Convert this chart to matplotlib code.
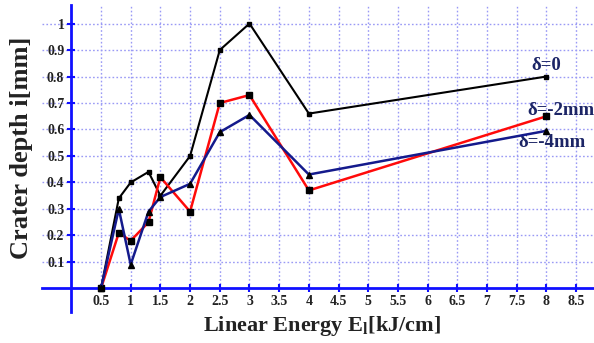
import matplotlib
matplotlib.use("Agg")
from matplotlib import pyplot as plt

energy = [0.5, 0.8, 1.0, 1.3, 1.5, 2.0, 2.5, 3.0, 4.0, 8.0]
depth_d0 = [0.0, 0.34, 0.40, 0.44, 0.35, 0.50, 0.90, 1.00, 0.66, 0.80]
depth_d2 = [0.0, 0.21, 0.18, 0.25, 0.42, 0.29, 0.70, 0.73, 0.37, 0.65]
depth_d4 = [0.0, 0.30, 0.09, 0.29, 0.345, 0.395, 0.59, 0.655, 0.43, 0.595]

x_ticks = [0.5, 1, 1.5, 2, 2.5, 3, 3.5, 4, 4.5, 5, 5.5, 6, 6.5, 7, 7.5, 8, 8.5]
x_tick_labels = ["0.5", "1", "1.5", "2", "2.5", "3", "3.5", "4", "4.5", "5",
                 "5.5", "6", "6.5", "7", "7.5", "8", "8.5"]
y_ticks = [0.1, 0.2, 0.3, 0.4, 0.5, 0.6, 0.7, 0.8, 0.9, 1.0]
y_tick_labels = ["0.1", "0.2", "0.3", "0.4", "0.5", "0.6", "0.7", "0.8", "0.9", "1"]

plt.rcParams['font.family'] = ['Liberation Serif', 'DejaVu Serif']
plt.rcParams['mathtext.fontset'] = 'custom'
plt.rcParams['mathtext.rm'] = 'Liberation Serif:bold'

fig = plt.figure(figsize=(5.94, 3.43), dpi=100)
fig.set_facecolor("white")
ax = fig.add_axes([42 / 594, 1 - 312 / 343, 1 - 42 / 594, 307 / 343])
ax.set_xlim(-0.493, 8.80)
ax.set_ylim(-0.089, 1.07)

grid_color = '#9a9af5'
for y in y_ticks:
    ax.axhline(y, color=grid_color, linestyle=(0, (1.2, 1.6)), linewidth=1.0, zorder=0)
ax.vlines(x_ticks, 0, 1.07, color=grid_color, linestyles=[(0, (1.2, 1.6))], linewidth=1.0, zorder=0)

for spine in ["top", "right"]:
    ax.spines[spine].set_visible(False)
ax.spines['left'].set_position(('data', 0))
ax.spines['bottom'].set_position(('data', 0))
for spine in ["left", "bottom"]:
    ax.spines[spine].set_color('#1010ff')
    ax.spines[spine].set_linewidth(2.0)
ax.spines['left'].set_bounds(-0.089, 1.07)

ax.plot(energy, depth_d0, color='black', linewidth=1.5, marker='s', markersize=3, zorder=3)
ax.plot(energy, depth_d2, color='#ff0a0a', linewidth=1.8, marker='s', markersize=5,
        markerfacecolor='black', markeredgecolor='black', zorder=3)
ax.plot(energy, depth_d4, color='#141a8c', linewidth=1.8, marker='^', markersize=4,
        markerfacecolor='black', markeredgecolor='black', zorder=4)

ax.set_xticks(x_ticks)
ax.set_xticklabels(x_tick_labels, fontweight='bold', fontsize=10, color='#222222')
ax.set_yticks(y_ticks)
ax.set_yticklabels(y_tick_labels, fontweight='bold', fontsize=10, color='#222222')
ax.tick_params(axis='both', direction='inout', color='#1010ff', length=6, width=1.5, pad=2)

label_color = '#1c2566'
ax.text(8.0, 0.81, "δ=0", ha='center', va='bottom', fontsize=13.5, fontweight='bold', color=label_color)
ax.text(8.25, 0.64, "δ=-2mm", ha='center', va='bottom', fontsize=13.5, fontweight='bold', color=label_color)
ax.text(8.1, 0.52, "δ=-4mm", ha='center', va='bottom', fontsize=13.5, fontweight='bold', color=label_color)

fig.text(22 / 594, 1 - 148 / 343, "Crater depth i[mm]", rotation=90, ha='center', va='center',
         fontsize=19, fontweight='bold', color='#222222')
fig.text(322 / 594, 1 - 326 / 343, r"Linear Energy E$_\mathregular{l}$[kJ/cm]", ha='center', va='center',
         fontsize=16, fontweight='bold', color='#222222')

fig.savefig("out.png", dpi=100, facecolor="white")
